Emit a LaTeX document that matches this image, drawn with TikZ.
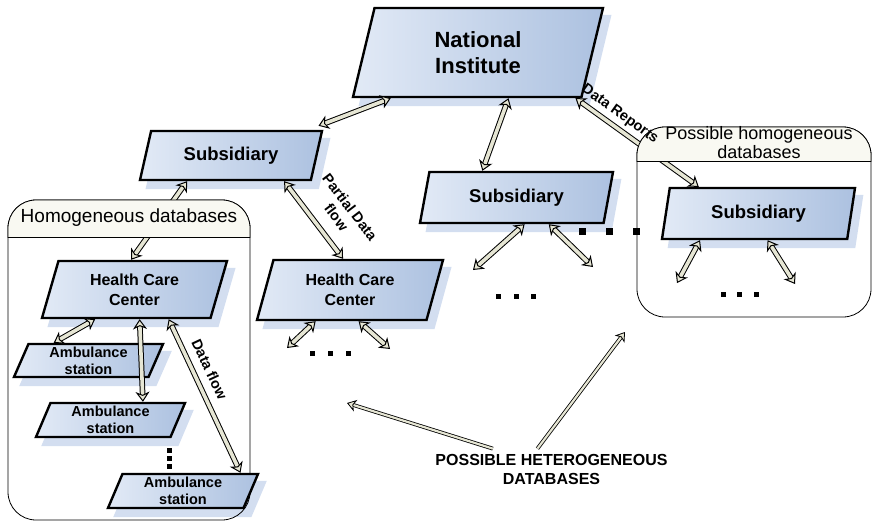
\documentclass[tikz,border=0pt]{standalone}
\usepackage{fontspec}
\setmainfont{Liberation Sans}
\usetikzlibrary{arrows.meta, calc, shapes.geometric, backgrounds}

\definecolor{boxlight}{RGB}{226,234,246}
\definecolor{boxdark}{RGB}{172,193,224}
\definecolor{boxshadow}{RGB}{211,222,240}
\definecolor{arrowfill}{RGB}{230,230,212}
\definecolor{headfill}{RGB}{249,249,242}

\begin{document}
\begin{tikzpicture}[x=1pt, y=-1pt,
    unit/.style={shape=trapezium, trapezium left angle=64, trapezium right angle=116,
      trapezium stretches body, draw, line width=2.4pt, left color=boxlight, right color=boxdark,
      align=center, inner sep=1pt},
    link/.style={draw=black, line width=1pt, double=arrowfill, double distance=3.6pt,
      {Stealth[fill=arrowfill, length=10pt, width=14pt, inset=3pt]}-{Stealth[fill=arrowfill, length=10pt, width=14pt, inset=3pt]}},
    pointer/.style={draw=black, line width=0.8pt, double=arrowfill, double distance=2.2pt,
      -{Stealth[fill=arrowfill, length=9pt, width=12pt, inset=2.5pt]}},
    tag/.style={font=\bfseries\fontsize{14.5}{17}\selectfont, inner sep=1pt, align=center},
    group/.style={line width=0.8pt, rounded corners=28pt},
    dot/.style={fill=black}]
  \useasboundingbox (0,0) rectangle (873,522);

  % database groups
  \draw[group] (8,200) rectangle (250,520);
  \draw[group] (637,127) rectangle (871,317);

  % units
  \node[unit, minimum width=250pt, minimum height=89pt, font=\bfseries\fontsize{22}{26}\selectfont] (ni) at (478,52.5) {National\\Institute};
  \node[unit, trapezium left angle=60, trapezium right angle=120, minimum width=182pt, minimum height=49pt, font=\bfseries\fontsize{18.5}{22}\selectfont] (sub1) at (231,155.5) {Subsidiary};
  \node[unit, minimum width=193pt, minimum height=51pt, font=\bfseries\fontsize{18.5}{22}\selectfont] (sub2) at (516.5,197.5) {Subsidiary};
  \node[unit, trapezium left angle=68, trapezium right angle=112, minimum width=193pt, minimum height=51pt, font=\bfseries\fontsize{18.5}{22}\selectfont] (sub3) at (758.5,213.5) {Subsidiary};
  \node[unit, minimum width=185pt, minimum height=57pt, font=\bfseries\fontsize{16}{20}\selectfont] (hcc1) at (134.5,289.5) {Health Care\\Center};
  \node[unit, minimum width=186pt, minimum height=60pt, font=\bfseries\fontsize{16}{20}\selectfont] (hcc2) at (350,290) {Health Care\\Center};
  \node[unit, minimum width=149pt, minimum height=33pt, font=\bfseries\fontsize{14.5}{17}\selectfont] (amb1) at (88.5,360.5) {Ambulance\\station};
  \node[unit, minimum width=149pt, minimum height=34pt, font=\bfseries\fontsize{14.5}{17}\selectfont] (amb2) at (110.5,420) {Ambulance\\station};
  \node[unit, minimum width=150pt, minimum height=34pt, font=\bfseries\fontsize{14.5}{17}\selectfont] (amb3) at (183,491) {Ambulance\\station};

  % shadows
  \begin{scope}[on background layer]
    \foreach \n in {ni,sub1,sub2,sub3,hcc1,hcc2,amb1,amb2,amb3}
      \fill[boxshadow] ($(\n.top left corner)+(7,8)$) -- ($(\n.top right corner)+(7,8)$)
        -- ($(\n.bottom right corner)+(7,8)$) -- ($(\n.bottom left corner)+(7,8)$) -- cycle;
  \end{scope}

  \node[font=\bfseries\fontsize{16}{19}\selectfont, align=center, inner sep=1pt] (hetero) at (551.5,469) {POSSIBLE HETEROGENEOUS\\DATABASES};

  % open ends
  \coordinate (h2a) at (287,348);
  \coordinate (h2b) at (390,349);
  \coordinate (s2a) at (473,270);
  \coordinate (s2b) at (593,267);
  \coordinate (s3a) at (677,283);
  \coordinate (s3b) at (795,284);
  \coordinate (het1) at (347,403);
  \coordinate (het2) at (625,332);
  \coordinate (rep1) at ($(ni.bottom left corner)!0.97!(ni.bottom right corner)$);
  \coordinate (rep2) at ($(sub3.top left corner)!0.16!(sub3.top right corner)$);

  % data links
  \draw[link] ($(ni.bottom left corner)!0.17!(ni.bottom right corner)$) -- ($(sub1.top right corner)+(-5,-4)$);
  \draw[link] ($(ni.bottom left corner)!0.68!(ni.bottom right corner)$) -- ($(sub2.top left corner)!0.29!(sub2.top right corner)$);
  \draw[link] (rep1) -- (rep2);
  \draw[link] ($(sub1.bottom left corner)!0.28!(sub1.bottom right corner)$) -- ($(hcc1.top left corner)!0.43!(hcc1.top right corner)$);
  \draw[link] ($(sub1.bottom left corner)!0.84!(sub1.bottom right corner)$) -- node[tag, sloped, above=13pt, pos=0.62] {Partial Data\\flow} ($(hcc2.top left corner)!0.41!(hcc2.top right corner)$);
  \draw[link] ($(hcc1.bottom left corner)!0.32!(hcc1.bottom right corner)$) -- ($(amb1.top left corner)!0.19!(amb1.top right corner)$);
  \draw[link] ($(hcc1.bottom left corner)!0.58!(hcc1.bottom right corner)$) -- ($(amb2.top left corner)!0.68!(amb2.top right corner)$);
  \draw[link] ($(hcc1.bottom left corner)!0.75!(hcc1.bottom right corner)$) -- node[tag, sloped, above=9pt, pos=0.37] {Data flow} ($(amb3.top left corner)!0.86!(amb3.top right corner)$);
  \draw[link] ($(hcc2.bottom left corner)!0.35!(hcc2.bottom right corner)$) -- (h2a);
  \draw[link] ($(hcc2.bottom left corner)!0.60!(hcc2.bottom right corner)$) -- (h2b);
  \draw[link] ($(sub2.bottom left corner)!0.57!(sub2.bottom right corner)$) -- (s2a);
  \draw[link] ($(sub2.bottom left corner)!0.70!(sub2.bottom right corner)$) -- (s2b);
  \draw[link] ($(sub3.bottom left corner)!0.21!(sub3.bottom right corner)$) -- (s3a);
  \draw[link] ($(sub3.bottom left corner)!0.57!(sub3.bottom right corner)$) -- (s3b);

  \draw[pointer] ($(hetero.north west)!0.25!(hetero.north east)+(0,-4)$) -- (het1);
  \draw[pointer] ($(hetero.north west)!0.44!(hetero.north east)+(0,-4)$) -- (het2);

  % group headers, over the links
  \begin{scope}
    \clip (0,190) rectangle (260,237);
    \draw[group, fill=headfill] (8,200) rectangle (250,520);
  \end{scope}
  \draw[line width=0.8pt] (8,237) -- (250,237);
  \node[font=\fontsize{19}{22}\selectfont] (homhead) at (129,218) {Homogeneous databases};

  \begin{scope}
    \clip (630,117) rectangle (873,161);
    \draw[group, fill=headfill] (637,127) rectangle (871,317);
  \end{scope}
  \draw[line width=0.8pt] (637,161) -- (871,161);
  \node[font=\fontsize{18}{19}\selectfont, align=center] (posshead) at (759,143) {Possible homogeneous\\databases};

  \path (rep1) -- node[tag, sloped, above=5pt, pos=0.3] {Data Reports} (rep2);

  % more of the same
  \foreach \x in {312,330,348} \fill[dot] (\x,353) +(-2.5,-2.5) rectangle +(2.5,2.5);
  \foreach \x in {498,516,533} \fill[dot] (\x,296) +(-2.5,-2.5) rectangle +(2.5,2.5);
  \foreach \x in {723,739,756} \fill[dot] (\x,294) +(-2.5,-2.5) rectangle +(2.5,2.5);
  \foreach \y in {450,458,466} \fill[dot] (169,\y) +(-2.5,-2.5) rectangle +(2.5,2.5);
  \foreach \x in {582,609,636} \fill[dot] (\x,231) +(-3.5,-3.5) rectangle +(3.5,3.5);
\end{tikzpicture}
\end{document}
